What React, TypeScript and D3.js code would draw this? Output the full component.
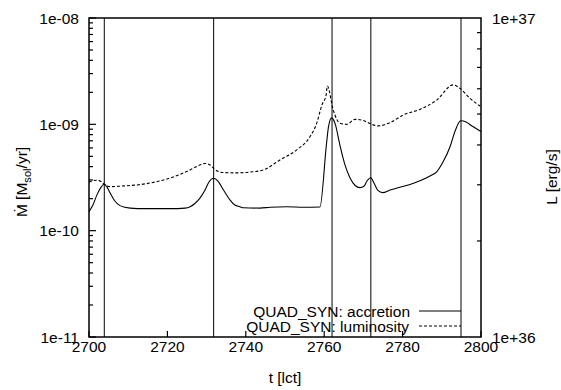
import * as d3 from "d3";

// accretion rate [M_sol/yr] vs time [lct]
const accT = [
  2700.0, 2701.0, 2702.0, 2703.1, 2703.9, 2704.6, 2705.4, 2706.6, 2707.9, 2710.5,
  2714.3, 2720.7, 2724.5, 2725.8, 2727.0, 2728.3, 2729.6, 2730.6, 2731.8, 2732.9,
  2734.3, 2736.0, 2737.2, 2738.5, 2739.4, 2743.6, 2746.2, 2750.4, 2754.7, 2758.9,
  2760.6, 2761.1, 2761.9, 2762.8, 2764.0, 2765.3, 2766.6, 2767.9, 2769.1, 2770.2,
  2770.9, 2771.9, 2772.7, 2773.7, 2774.9, 2776.8, 2779.3, 2781.9, 2784.4, 2787.0,
  2788.7, 2790.3, 2792.1, 2793.4, 2794.8, 2796.2, 2797.7, 2800.0,
];
const accVal = [
  1.51e-10, 1.74e-10, 2.16e-10, 2.57e-10, 2.75e-10, 2.57e-10, 2.26e-10, 1.9e-10, 1.72e-10, 1.63e-10,
  1.61e-10, 1.61e-10, 1.63e-10, 1.68e-10, 1.8e-10, 2.02e-10, 2.41e-10, 2.87e-10, 3.11e-10, 2.93e-10,
  2.41e-10, 1.94e-10, 1.74e-10, 1.68e-10, 1.64e-10, 1.63e-10, 1.66e-10, 1.68e-10, 1.66e-10, 1.67e-10,
  6.63e-10, 9.5e-10, 1.15e-9, 1.01e-9, 6.39e-10, 4.15e-10, 3.13e-10, 2.66e-10, 2.54e-10, 2.63e-10,
  2.93e-10, 3.15e-10, 2.81e-10, 2.39e-10, 2.28e-10, 2.41e-10, 2.56e-10, 2.72e-10, 2.95e-10, 3.27e-10,
  3.58e-10, 4.42e-10, 6.16e-10, 8.65e-10, 1.08e-9, 1.05e-9, 9.65e-10, 8.56e-10,
];

// luminosity [erg/s] vs time [lct]
const lumT = [
  2700.0, 2701.0, 2702.2, 2703.1, 2703.9, 2705.4, 2707.9, 2714.3, 2720.7, 2725.8,
  2728.3, 2729.7, 2730.9, 2732.1, 2733.9, 2737.7, 2741.1, 2744.5, 2748.7, 2753.0,
  2756.4, 2758.1, 2759.4, 2760.5, 2760.8, 2762.3, 2764.0, 2765.7, 2767.9, 2770.0,
  2772.1, 2773.8, 2776.8, 2780.2, 2784.4, 2788.7, 2792.9, 2794.6, 2797.2, 2800.0,
];
const lumVal = [
  3.06e36, 3.09e36, 3.1e36, 3.07e36, 3.01e36, 2.96e36, 2.97e36, 3.02e36, 3.15e36, 3.34e36,
  3.46e36, 3.5e36, 3.46e36, 3.35e36, 3.28e36, 3.27e36, 3.29e36, 3.34e36, 3.59e36, 3.86e36,
  4.25e36, 4.68e36, 5.33e36, 5.74e36, 6.12e36, 5.15e36, 4.68e36, 4.64e36, 4.81e36, 4.77e36,
  4.64e36, 4.59e36, 4.7e36, 4.97e36, 5.17e36, 5.53e36, 6.17e36, 6.02e36, 5.6e36, 5.27e36,
];

// vertical marker lines
const markers = [2703.9, 2731.8, 2762.0, 2771.9, 2794.9];

const xTicks = [2700, 2720, 2740, 2760, 2780, 2800];
const yTicks = [1e-11, 1e-10, 1e-9, 1e-8];
const yTickLabels = ["1e-11", "1e-10", "1e-09", "1e-08"];
const y2Ticks = [1e36, 1e37];
const y2TickLabels = ["1e+36", "1e+37"];

const legendLabels = ["QUAD_SYN: accretion", "QUAD_SYN: luminosity"];

const W = 561;
const H = 390;
const mL = 89;
const mR = 80;
const mT = 18;
const mB = 53;
const font = "'Liberation Sans', Arial, Helvetica, sans-serif";
const fs = 15.5;

export default function App() {
  const x = d3.scaleLinear().domain([2700, 2800]).range([mL, W - mR]);
  const y = d3.scaleLog().domain([1e-11, 1e-8]).range([H - mB, mT]);
  const y2 = d3.scaleLog().domain([1e36, 1e37]).range([H - mB, mT]);

  const accLine = d3
    .line<number>()
    .x((d, i) => x(accT[i]))
    .y((d) => y(d))
    .curve(d3.curveMonotoneX);
  const lumLine = d3
    .line<number>()
    .x((d, i) => x(lumT[i]))
    .y((d) => y2(d))
    .curve(d3.curveMonotoneX);

  // minor ticks 2..9 per decade
  const yMinor: number[] = [];
  for (let e = -11; e < -8; e++) {
    for (let k = 2; k <= 9; k++) yMinor.push(k * Math.pow(10, e));
  }
  const y2Minor: number[] = [];
  for (let k = 2; k <= 9; k++) y2Minor.push(k * 1e36);

  const bottom = H - mB;
  const right = W - mR;

  return (
    <svg
      width={W}
      height={H}
      style={{ position: "absolute", left: 0, top: 0, background: "#fff" }}
      fontFamily={font}
      fontSize={fs}
    >
      <rect width={W} height={H} fill="#fff" />

      {markers.map((m, i) => (
        <line key={i} x1={x(m)} x2={x(m)} y1={mT} y2={bottom} stroke="#000" strokeWidth={1} />
      ))}

      <path d={accLine(accVal) || ""} fill="none" stroke="#000" strokeWidth={1.1} />
      <path
        d={lumLine(lumVal) || ""}
        fill="none"
        stroke="#000"
        strokeWidth={1.1}
        strokeDasharray="3,2"
      />

      {/* left axis ticks */}
      {yTicks.map((t, i) => (
        <g key={i}>
          <line x1={mL} x2={mL + 7} y1={y(t)} y2={y(t)} stroke="#000" strokeWidth={1.2} />
          <text x={79} y={y(t)} dy="0.36em" textAnchor="end">
            {yTickLabels[i]}
          </text>
        </g>
      ))}
      {yMinor.map((t, i) => (
        <line key={i} x1={mL} x2={mL + 4} y1={y(t)} y2={y(t)} stroke="#000" strokeWidth={1.2} />
      ))}

      {/* right axis ticks */}
      {y2Ticks.map((t, i) => (
        <text key={i} x={492} y={y2(t)} dy="0.36em" textAnchor="start">
          {y2TickLabels[i]}
        </text>
      ))}
      {y2Minor.map((t, i) => (
        <line key={i} x1={right} x2={right - 4} y1={y2(t)} y2={y2(t)} stroke="#000" strokeWidth={1.2} />
      ))}

      {/* bottom axis ticks */}
      {xTicks.map((t, i) => (
        <g key={i}>
          <line x1={x(t)} x2={x(t)} y1={bottom} y2={bottom - 6} stroke="#000" strokeWidth={1.2} />
          <text x={x(t)} y={352} textAnchor="middle">
            {t}
          </text>
        </g>
      ))}

      {/* legend */}
      <text x={410} y={316.5} textAnchor="end">
        {legendLabels[0]}
      </text>
      <line x1={419} x2={461} y1={311} y2={311} stroke="#000" strokeWidth={1.1} />
      <text x={409} y={331.5} textAnchor="end">
        {legendLabels[1]}
      </text>
      <line
        x1={419}
        x2={461}
        y1={326}
        y2={326}
        stroke="#000"
        strokeWidth={1.1}
        strokeDasharray="3,2"
      />

      <rect
        x={mL}
        y={mT}
        width={right - mL}
        height={bottom - mT}
        fill="none"
        stroke="#000"
        strokeWidth={1.5}
      />

      {/* axis titles */}
      <text x={(mL + right) / 2} y={383} textAnchor="middle">
        t [lct]
      </text>
      <text transform="translate(27,182) rotate(-90)" textAnchor="middle">
        Ṁ [M<tspan fontSize={fs * 0.72} dy="4">sol</tspan>
        <tspan dy="-4">/yr]</tspan>
      </text>
      <text transform="translate(557,177) rotate(-90)" textAnchor="middle">
        L [erg/s]
      </text>
    </svg>
  );
}
